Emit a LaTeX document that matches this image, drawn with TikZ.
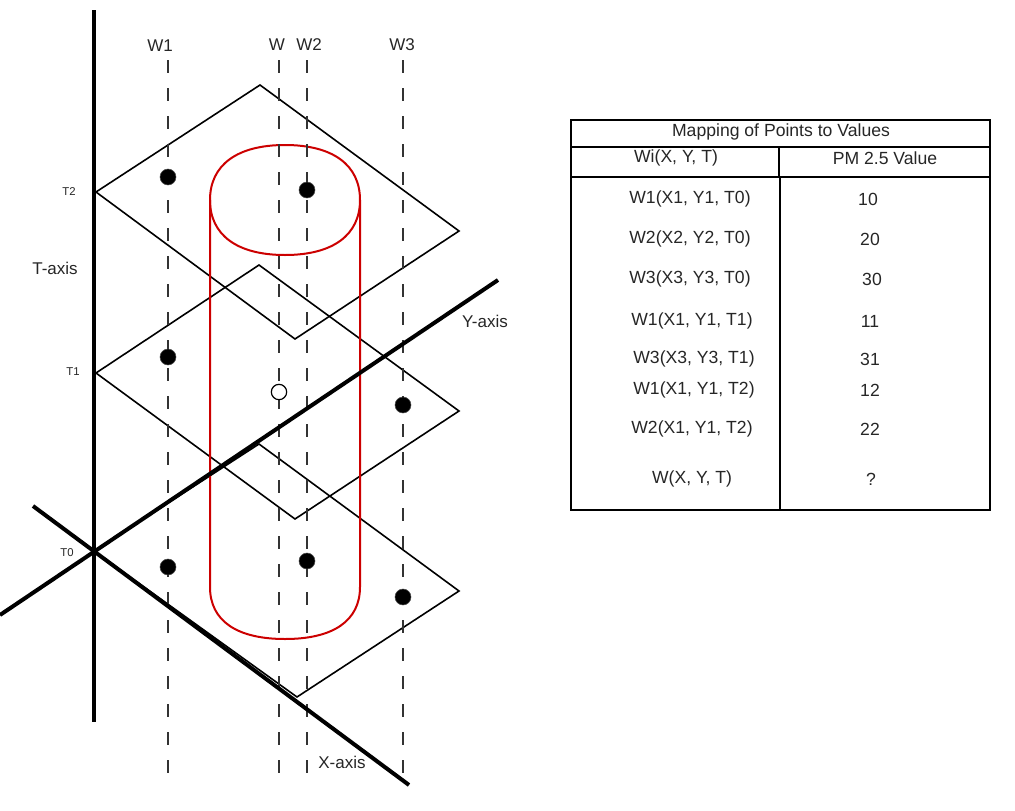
\documentclass[tikz,border=0pt]{standalone}
\usepackage{fontspec}
\setmainfont{Liberation Sans}
\usetikzlibrary{
  positioning,
  calc
}

\begin{document}
\begin{tikzpicture}[
  x=0.75pt, y=-0.75pt,
  axis/.style={line width=3pt},
  plane/.style={line width=1.2pt, line join=miter},
  wline/.style={line width=1.5pt, draw=black!80, dash pattern=on 9.75pt off 11.25pt},
  cyl/.style={line width=1.5pt, draw=red!80!black},
  dot/.style={circle, fill=black, draw=black!70, minimum size=12pt, inner sep=0pt},
  hole/.style={circle, fill=white, draw=black, line width=0.9pt, minimum size=11.5pt, inner sep=0pt},
  lbl/.style={font=\fontsize{12.75}{15}\selectfont, inner sep=0pt, text=black!85},
  tlbl/.style={font=\fontsize{8.5}{10}\selectfont, inner sep=0pt, text=black!85},
  cell/.style={font=\fontsize{13.2}{15}\selectfont, inner sep=0pt, text=black!85},
  thin/.style={line width=1.2pt},
  thick/.style={line width=1.9pt}
]

% Background
\useasboundingbox (0,0) rectangle (1015,811);

% ==================== PLANES ====================
\coordinate (p2l) at (96,192);
\coordinate (p2t) at (260,85);
\coordinate (p2r) at (459,231);
\coordinate (p2b) at (295,339);
\coordinate (p1l) at (96,373);
\coordinate (p1t) at (259,265);
\coordinate (p1r) at (459,411);
\coordinate (p1b) at (295,519);
\coordinate (p0l) at (94,551);
\coordinate (p0t) at (259,444);
\coordinate (p0r) at (459,591);
\coordinate (p0b) at (297,697);

\draw[plane] (p2l) -- (p2t) -- (p2r) -- (p2b) -- cycle;
\draw[plane] (p1l) -- (p1t) -- (p1r) -- (p1b) -- cycle;
\draw[plane] (p0l) -- (p0t) -- (p0r) -- (p0b) -- cycle;

% ==================== CYLINDER ====================
\coordinate (ctl) at (210,200);
\coordinate (ctr) at (360,200);
\coordinate (cbl) at (210,587);
\coordinate (cbr) at (360,587);

\draw[cyl] (ctl) .. controls (210,165) and (237,145) .. (285,145)
  .. controls (333,145) and (360,165) .. (ctr)
  .. controls (360,235) and (333,255) .. (285,255)
  .. controls (237,255) and (210,235) .. (ctl) -- cycle;
\draw[cyl] (ctl) -- (cbl) .. controls (210,621) and (237,639) .. (285,639)
  .. controls (333,639) and (360,621) .. (cbr) -- (ctr);

% ==================== VERTICAL LINES ====================
\node[lbl] (w1lbl) at (160,46) {W1};
\node[lbl] (wlbl) at (277,45) {W};
\node[lbl] (w2lbl) at (309,45) {W2};
\node[lbl] (w3lbl) at (402,45) {W3};

\coordinate (w1top) at (168,60);  \coordinate (w1bot) at (168,773);
\coordinate (wtop) at (279,60);   \coordinate (wbot) at (279,773);
\coordinate (w2top) at (307,60);  \coordinate (w2bot) at (307,773);
\coordinate (w3top) at (403,60);  \coordinate (w3bot) at (403,773);

\draw[wline] (w1top) -- (w1bot);
\draw[wline] (wtop) -- (wbot);
\draw[wline] (w2top) -- (w2bot);
\draw[wline] (w3top) -- (w3bot);

% ==================== AXES ====================
\coordinate (ttop) at (94,10);
\coordinate (tbot) at (94,722);
\coordinate (xstart) at (33,506);
\coordinate (xend) at (409,785);
\coordinate (ystart) at (0,615);
\coordinate (yend) at (498,280);

\draw[axis] (ttop) -- (tbot);
\draw[axis] (xstart) -- (xend);
\draw[axis] (ystart) -- (yend);

\node[lbl] (taxis) at (55,268) {T-axis};
\node[lbl] (yaxis) at (485,321) {Y-axis};
\node[lbl] (xaxis) at (342,762) {X-axis};
\node[tlbl] (t2) at (69,192) {T2};
\node[tlbl] (t1) at (73,372) {T1};
\node[tlbl] (t0) at (67,553) {T0};

% ==================== POINTS ====================
\node[dot] (w1t2) at (168,177) {};
\node[dot] (w2t2) at (307,190) {};
\node[dot] (w1t1) at (168,357) {};
\node[hole] (wt1) at (279,392) {};
\node[dot] (w3t1) at (403,405) {};
\node[dot] (w1t0) at (168,567) {};
\node[dot] (w2t0) at (307,561) {};
\node[dot] (w3t0) at (403,597) {};

% ==================== TABLE ====================
\draw[thin] (571,120) rectangle (990,177);
\draw[thin] (571,147) -- (990,147);
\draw[thin] (779,147) -- (779,177);
\draw[thick] (571,177) rectangle (990,510);
\draw[thick] (780,177) -- (780,510);

\node[cell] (ttl) at (781,132) {Mapping of Points to Values};
\node[cell] (hpt) at (676,158) {Wi(X, Y, T)};
\node[cell] (hval) at (885,158) {PM 2.5 Value};

\node[cell] (r1) at (690,199) {W1(X1, Y1, T0)};
\node[cell] (v1) at (868,199) {10};
\node[cell] (r2) at (690,239) {W2(X2, Y2, T0)};
\node[cell] (v2) at (870,239) {20};
\node[cell] (r3) at (690,279) {W3(X3, Y3, T0)};
\node[cell] (v3) at (872,279) {30};
\node[cell] (r4) at (692,321) {W1(X1, Y1, T1)};
\node[cell] (v4) at (870,321) {11};
\node[cell] (r5) at (694,359) {W3(X3, Y3, T1)};
\node[cell] (v5) at (870,359) {31};
\node[cell] (r6) at (694,390) {W1(X1, Y1, T2)};
\node[cell] (v6) at (870,390) {12};
\node[cell] (r7) at (692,429) {W2(X1, Y1, T2)};
\node[cell] (v7) at (870,429) {22};
\node[cell] (r8) at (692,479) {W(X, Y, T)};
\node[cell] (v8) at (871,479) {?};

\end{tikzpicture}
\end{document}
